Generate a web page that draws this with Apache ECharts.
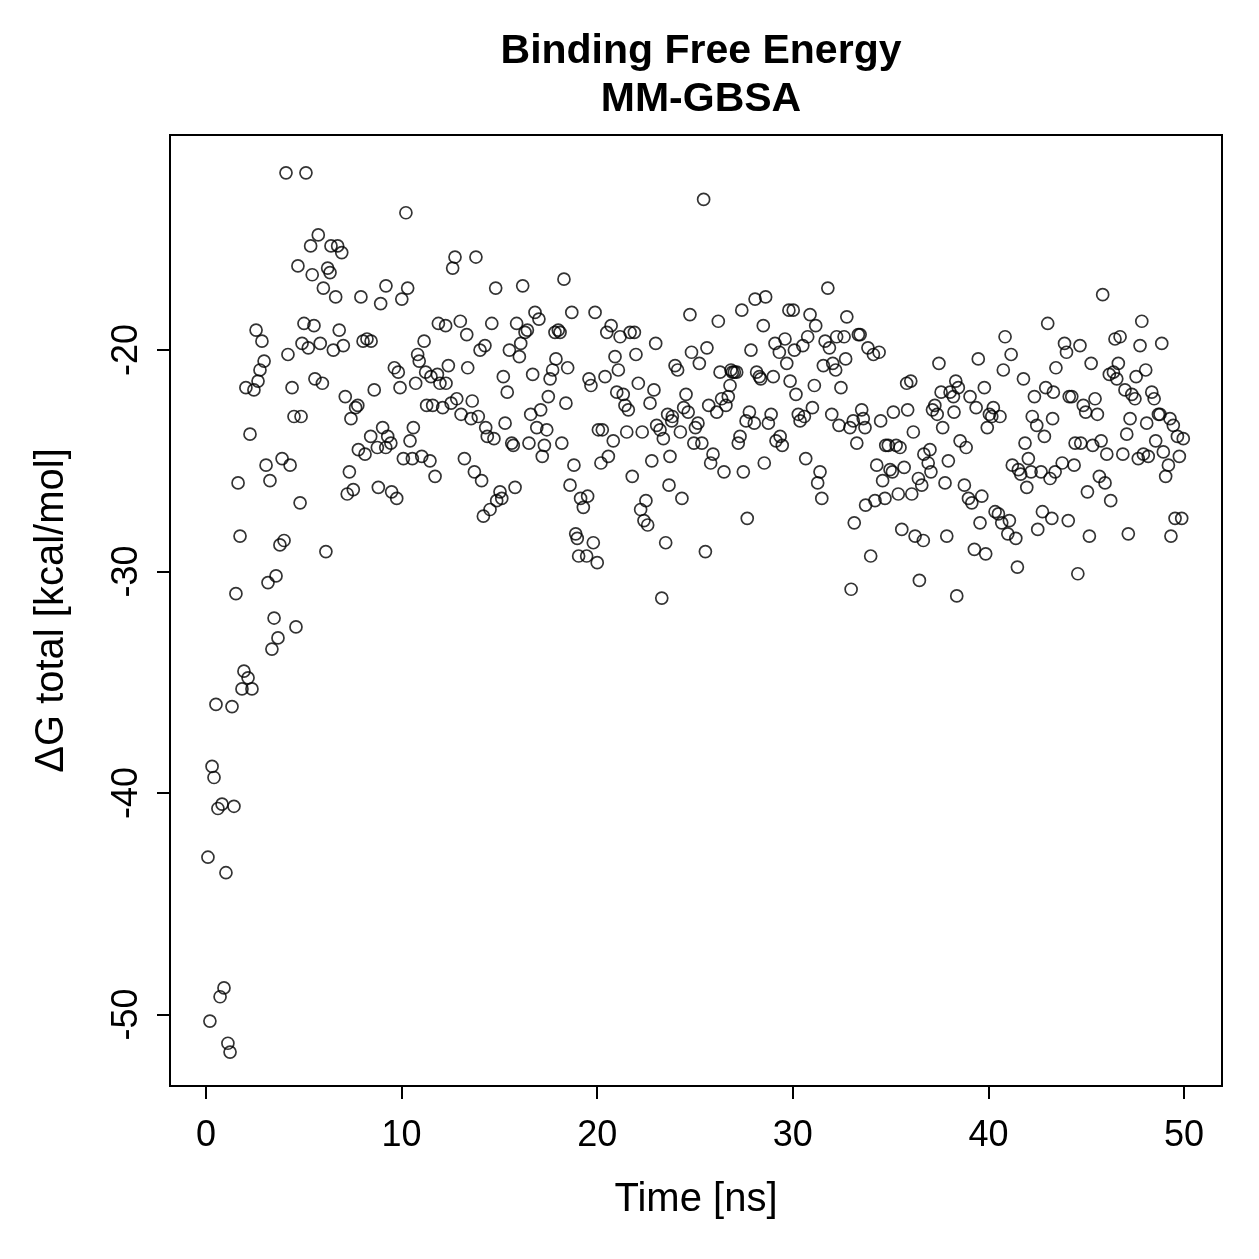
<!DOCTYPE html>
<html>
<head>
<meta charset="utf-8">
<title>Binding Free Energy MM-GBSA</title>
<script src="https://cdn.jsdelivr.net/npm/echarts@6/dist/echarts.min.js"></script>
<style>
  html, body { margin: 0; padding: 0; background: #fff; }
  #main { width: 1259px; height: 1259px; }
</style>
</head>
<body>
<div id="main"></div>
<script>
// time [ns] and dG total [kcal/mol]
const timeNs = [
  0.10, 0.20, 0.31, 0.41, 0.51, 0.61, 0.72, 0.82, 0.92, 1.02, 1.12, 1.23, 1.33, 1.43, 1.53, 1.64, 1.74, 1.84, 1.94, 2.04,
  2.15, 2.25, 2.35, 2.45, 2.56, 2.66, 2.76, 2.86, 2.97, 3.07, 3.17, 3.27, 3.37, 3.48, 3.58, 3.68, 3.78, 3.89, 3.99, 4.09,
  4.19, 4.30, 4.40, 4.50, 4.60, 4.70, 4.81, 4.86, 4.91, 5.01, 5.11, 5.23, 5.35, 5.43, 5.52, 5.57, 5.74, 5.84, 5.95, 6.00,
  6.13, 6.22, 6.34, 6.39, 6.51, 6.63, 6.73, 6.81, 6.94, 7.02, 7.12, 7.22, 7.33, 7.41, 7.53, 7.65, 7.76, 7.79, 7.92, 8.03,
  8.13, 8.23, 8.42, 8.44, 8.60, 8.76, 8.81, 8.93, 9.03, 9.19, 9.20, 9.29, 9.45, 9.49, 9.63, 9.75, 9.83, 9.92, 10.01, 10.09,
  10.22, 10.31, 10.43, 10.55, 10.60, 10.72, 10.82, 10.90, 11.03, 11.15, 11.23, 11.28, 11.45, 11.50, 11.59, 11.71, 11.83, 11.88, 11.96, 12.10,
  12.25, 12.27, 12.39, 12.53, 12.61, 12.73, 12.82, 13.00, 13.04, 13.21, 13.33, 13.38, 13.55, 13.61, 13.72, 13.80, 13.92, 14.01, 14.09, 14.18,
  14.26, 14.30, 14.38, 14.52, 14.61, 14.72, 14.81, 14.86, 15.03, 15.12, 15.20, 15.29, 15.40, 15.51, 15.63, 15.71, 15.80, 15.88, 16.02, 16.09,
  16.19, 16.31, 16.43, 16.51, 16.60, 16.70, 16.82, 16.91, 17.02, 17.11, 17.19, 17.30, 17.42, 17.50, 17.59, 17.72, 17.84, 17.89, 18.01, 18.10,
  18.19, 18.30, 18.40, 18.49, 18.61, 18.70, 18.81, 18.90, 18.98, 19.05, 19.15, 19.29, 19.46, 19.51, 19.58, 19.68, 19.80, 19.89, 20.00, 20.06,
  20.19, 20.26, 20.40, 20.49, 20.57, 20.71, 20.82, 20.91, 21.00, 21.08, 21.17, 21.33, 21.42, 21.51, 21.59, 21.68, 21.79, 21.90, 21.98, 22.10,
  22.22, 22.30, 22.39, 22.49, 22.58, 22.70, 22.79, 22.90, 22.99, 23.04, 23.21, 23.30, 23.38, 23.50, 23.60, 23.67, 23.72, 23.81, 23.84, 23.98,
  24.11, 24.25, 24.33, 24.42, 24.54, 24.65, 24.74, 24.82, 24.94, 25.02, 25.15, 25.22, 25.35, 25.44, 25.53, 25.61, 25.70, 25.80, 25.92, 26.11,
  26.19, 26.28, 26.36, 26.48, 26.58, 26.70, 26.79, 26.84, 26.91, 27.01, 27.13, 27.21, 27.30, 27.39, 27.47, 27.61, 27.67, 27.78, 27.86, 28.03,
  28.07, 28.15, 28.29, 28.36, 28.49, 28.54, 28.61, 28.75, 28.89, 29.00, 29.09, 29.14, 29.31, 29.35, 29.46, 29.60, 29.69, 29.80, 29.86, 30.02,
  30.08, 30.16, 30.28, 30.37, 30.51, 30.59, 30.66, 30.76, 30.88, 31.00, 31.10, 31.17, 31.27, 31.39, 31.48, 31.56, 31.65, 31.79, 31.87, 31.99,
  32.04, 32.19, 32.24, 32.36, 32.46, 32.62, 32.70, 32.76, 32.92, 32.98, 33.09, 33.14, 33.27, 33.35, 33.44, 33.52, 33.60, 33.69, 33.72, 33.84,
  33.98, 34.12, 34.20, 34.29, 34.41, 34.49, 34.59, 34.71, 34.75, 34.88, 34.97, 35.09, 35.14, 35.28, 35.39, 35.48, 35.57, 35.69, 35.82, 35.87,
  36.03, 36.08, 36.16, 36.25, 36.42, 36.47, 36.59, 36.67, 36.70, 36.92, 37.01, 37.06, 37.14, 37.26, 37.38, 37.47, 37.58, 37.66, 37.78, 37.87,
  37.95, 38.04, 38.21, 38.24, 38.33, 38.38, 38.46, 38.55, 38.77, 38.86, 38.98, 39.06, 39.15, 39.28, 39.37, 39.48, 39.57, 39.66, 39.79, 39.86,
  39.94, 40.05, 40.17, 40.25, 40.34, 40.51, 40.59, 40.68, 40.76, 40.85, 40.99, 41.07, 41.16, 41.22, 41.40, 41.48, 41.53, 41.65, 41.79, 41.87,
  41.96, 42.04, 42.18, 42.24, 42.35, 42.47, 42.52, 42.69, 42.76, 42.86, 42.93, 43.03, 43.15, 43.24, 43.28, 43.32, 43.41, 43.45, 43.77, 43.89,
  43.99, 44.08, 44.13, 44.26, 44.38, 44.43, 44.57, 44.68, 44.72, 44.85, 44.97, 45.06, 45.16, 45.25, 45.33, 45.45, 45.57, 45.67, 45.76, 45.84,
  45.96, 46.05, 46.18, 46.25, 46.39, 46.47, 46.56, 46.64, 46.73, 46.87, 46.98, 47.07, 47.15, 47.24, 47.33, 47.49, 47.55, 47.66, 47.75, 47.84,
  47.92, 48.04, 48.09, 48.17, 48.35, 48.47, 48.55, 48.69, 48.77, 48.86, 48.94, 49.06, 49.20, 49.28, 49.33, 49.45, 49.54, 49.66, 49.76, 49.88,
  49.96
];
const dGTotal = [
  -42.9, -50.3, -38.8, -39.3, -36.0, -40.7, -49.2, -40.5, -48.8, -43.6, -51.3, -51.7, -36.1, -40.6, -31.0, -26.0, -28.4, -35.3, -34.5, -21.7,
  -34.8, -23.8, -35.3, -21.8, -19.1, -21.4, -20.9, -19.6, -20.5, -25.2, -30.5, -25.9, -33.5, -32.1, -30.2, -33.0, -28.8, -24.9, -28.6, -12.0,
  -20.2, -25.2, -21.7, -23.0, -32.5, -16.2, -26.9, -23.0, -19.7, -18.8, -12.0, -19.9, -15.3, -16.6, -18.9, -21.3, -14.8, -19.7, -21.5, -17.2,
  -29.1, -16.3, -16.5, -15.3, -20.0, -17.6, -15.3, -19.1, -15.6, -19.8, -22.1, -26.5, -25.5, -23.1, -26.3, -22.6, -22.5, -24.5, -17.6, -19.6,
  -24.7, -19.5, -23.9, -19.6, -21.8, -24.4, -26.2, -17.9, -23.5, -24.4, -17.1, -23.9, -24.2, -26.4, -20.8, -26.7, -21.0, -21.7, -17.7, -24.9,
  -13.8, -17.2, -24.1, -24.9, -23.5, -21.5, -20.2, -20.5, -24.8, -19.6, -21.0, -22.5, -25.0, -21.2, -22.5, -25.7, -21.1, -18.8, -21.5, -22.6,
  -18.9, -21.5, -20.7, -22.4, -16.3, -15.8, -22.2, -18.7, -22.9, -24.9, -19.3, -20.8, -23.1, -22.3, -25.5, -15.8, -23.0, -20.0, -25.9, -27.5,
  -19.8, -23.5, -23.9, -27.2, -18.8, -24.0, -17.2, -26.8, -26.4, -26.7, -21.2, -23.3, -21.9, -20.0, -24.2, -24.3, -26.2, -18.8, -20.3, -19.7,
  -17.1, -19.2, -19.1, -24.2, -22.9, -21.1, -18.3, -23.5, -18.6, -22.7, -24.8, -24.3, -23.6, -22.1, -21.3, -20.9, -19.2, -20.4, -19.1, -19.2,
  -24.2, -16.8, -22.4, -20.8, -26.1, -18.3, -25.2, -28.3, -28.5, -29.3, -26.7, -27.1, -29.3, -26.6, -21.3, -21.6, -28.7, -18.3, -29.6, -23.6,
  -25.1, -23.6, -21.2, -19.2, -24.8, -18.9, -24.1, -20.3, -21.9, -20.9, -19.4, -22.0, -22.5, -23.7, -22.7, -19.2, -25.7, -19.2, -20.2, -21.5,
  -27.2, -23.7, -27.7, -26.8, -27.9, -22.4, -25.0, -21.8, -19.7, -23.4, -23.6, -31.2, -24.0, -28.7, -22.9, -26.1, -24.8, -23.2, -23.0, -20.7,
  -20.9, -23.7, -26.7, -22.6, -22.0, -22.8, -18.4, -20.1, -24.2, -23.5, -23.3, -20.6, -24.2, -13.2, -29.1, -19.9, -22.5, -25.1, -24.7, -22.8,
  -18.7, -21.0, -22.2, -25.5, -22.5, -22.1, -21.6, -20.9, -21.0, -21.0, -21.0, -24.2, -23.9, -18.2, -25.5, -23.2, -27.6, -22.8, -20.0, -23.3,
  -17.7, -21.0, -21.2, -21.3, -18.9, -25.1, -17.6, -23.3, -22.9, -21.2, -19.7, -24.1, -20.1, -23.9, -24.3, -19.5, -20.6, -18.2, -21.4, -18.2,
  -20.0, -22.0, -22.9, -23.2, -19.8, -23.0, -24.9, -19.4, -18.4, -22.6, -21.6, -18.9, -26.0, -25.5, -26.7, -20.7, -19.6, -17.2, -19.9, -22.9,
  -20.6, -20.9, -19.4, -23.4, -21.7, -19.4, -20.4, -18.5, -23.5, -30.8, -23.2, -27.8, -24.2, -19.3, -19.3, -22.7, -23.1, -23.5, -27.0, -19.9,
  -29.3, -20.2, -26.8, -25.2, -20.1, -23.2, -25.9, -26.7, -24.3, -24.3, -25.4, -25.5, -22.8, -24.3, -26.5, -24.4, -28.1, -25.3, -21.5, -22.7,
  -21.4, -26.5, -23.7, -28.4, -25.8, -30.4, -26.1, -28.6, -24.7, -25.1, -24.5, -25.5, -22.7, -22.5, -22.9, -20.6, -21.9, -23.5, -26.0, -28.4,
  -25.0, -21.9, -22.1, -22.8, -21.4, -31.1, -21.7, -24.1, -26.1, -24.4, -26.7, -22.1, -26.9, -29.0, -22.6, -20.4, -27.8, -26.6, -21.7, -29.2,
  -23.5, -22.9, -23.0, -22.6, -27.3, -27.4, -23.0, -27.8, -20.9, -19.4, -28.3, -27.7, -20.2, -25.2, -28.5, -29.8, -25.4, -25.6, -21.3, -24.2,
  -26.2, -24.9, -25.5, -23.0, -22.1, -23.4, -28.1, -25.5, -27.3, -23.9, -21.7, -18.8, -25.8, -27.6, -23.1, -21.9, -25.5, -20.8, -25.1, -19.7,
  -20.1, -27.7, -22.1, -22.1, -25.2, -24.2, -30.1, -19.8, -24.2, -22.5, -22.8, -26.4, -28.4, -20.6, -24.3, -22.2, -22.9, -25.7, -24.1, -17.5,
  -26.0, -24.7, -21.1, -26.8, -21.0, -19.5, -21.3, -20.6, -19.4, -24.7, -21.8, -23.8, -28.3, -23.1, -22.0, -22.2, -21.2, -24.9, -19.8, -18.7,
  -24.7, -20.9, -23.3, -24.8, -21.9, -22.2, -24.1, -22.9, -22.9, -19.7, -24.6, -25.7, -25.2, -23.1, -28.4, -23.4, -27.6, -23.9, -24.8, -27.6,
  -24.0
];
const xTicks = [0, 10, 20, 30, 40, 50];
const yTicks = [-50, -40, -30, -20];

const points = timeNs.map((t, i) => [t, dGTotal[i]]);

const font = 'Liberation Sans, Arial, Helvetica, sans-serif';
const chart = echarts.init(document.getElementById('main'));

const option = {
  backgroundColor: '#ffffff',
  animation: false,
  title: {
    text: 'Binding Free Energy\nMM-GBSA',
    left: 696,
    top: 23,
    textAlign: 'center',
    textStyle: {
      fontFamily: font,
      fontWeight: 'bold',
      fontSize: 41,
      lineHeight: 48,
      color: '#000'
    }
  },
  grid: {
    left: 170,
    top: 135,
    width: 1052,
    height: 951,
    show: true,
    borderColor: '#000',
    borderWidth: 2,
    backgroundColor: 'transparent'
  },
  xAxis: {
    type: 'value',
    min: -1.84,
    max: 51.94,
    name: 'Time [ns]',
    nameLocation: 'middle',
    nameGap: 94,
    nameTextStyle: { fontFamily: font, fontSize: 40, color: '#000' },
    axisLine: { show: false, onZero: false },
    splitLine: { show: false },
    axisTick: {
      show: true,
      length: 13,
      inside: false,
      customValues: xTicks,
      lineStyle: { color: '#000', width: 2 }
    },
    axisLabel: {
      customValues: xTicks,
      margin: 32,
      fontFamily: font,
      fontSize: 36,
      color: '#000'
    }
  },
  yAxis: {
    type: 'value',
    min: -53.23,
    max: -10.29,
    name: 'ΔG total [kcal/mol]',
    nameLocation: 'middle',
    nameGap: 98,
    nameTextStyle: { fontFamily: font, fontSize: 40, color: '#000' },
    axisLine: { show: false, onZero: false },
    splitLine: { show: false },
    axisTick: {
      show: true,
      length: 13,
      inside: false,
      customValues: yTicks,
      lineStyle: { color: '#000', width: 2 }
    },
    axisLabel: {
      customValues: yTicks,
      rotate: 90,
      margin: 25,
      fontFamily: font,
      fontSize: 36,
      color: '#000'
    }
  },
  series: [
    {
      type: 'scatter',
      data: points,
      symbol: 'circle',
      symbolSize: 12,
      itemStyle: {
        color: 'rgba(0,0,0,0)',
        borderColor: '#000',
        borderWidth: 1.7
      },
      emphasis: { disabled: true }
    }
  ]
};

chart.setOption(option);
</script>
</body>
</html>
